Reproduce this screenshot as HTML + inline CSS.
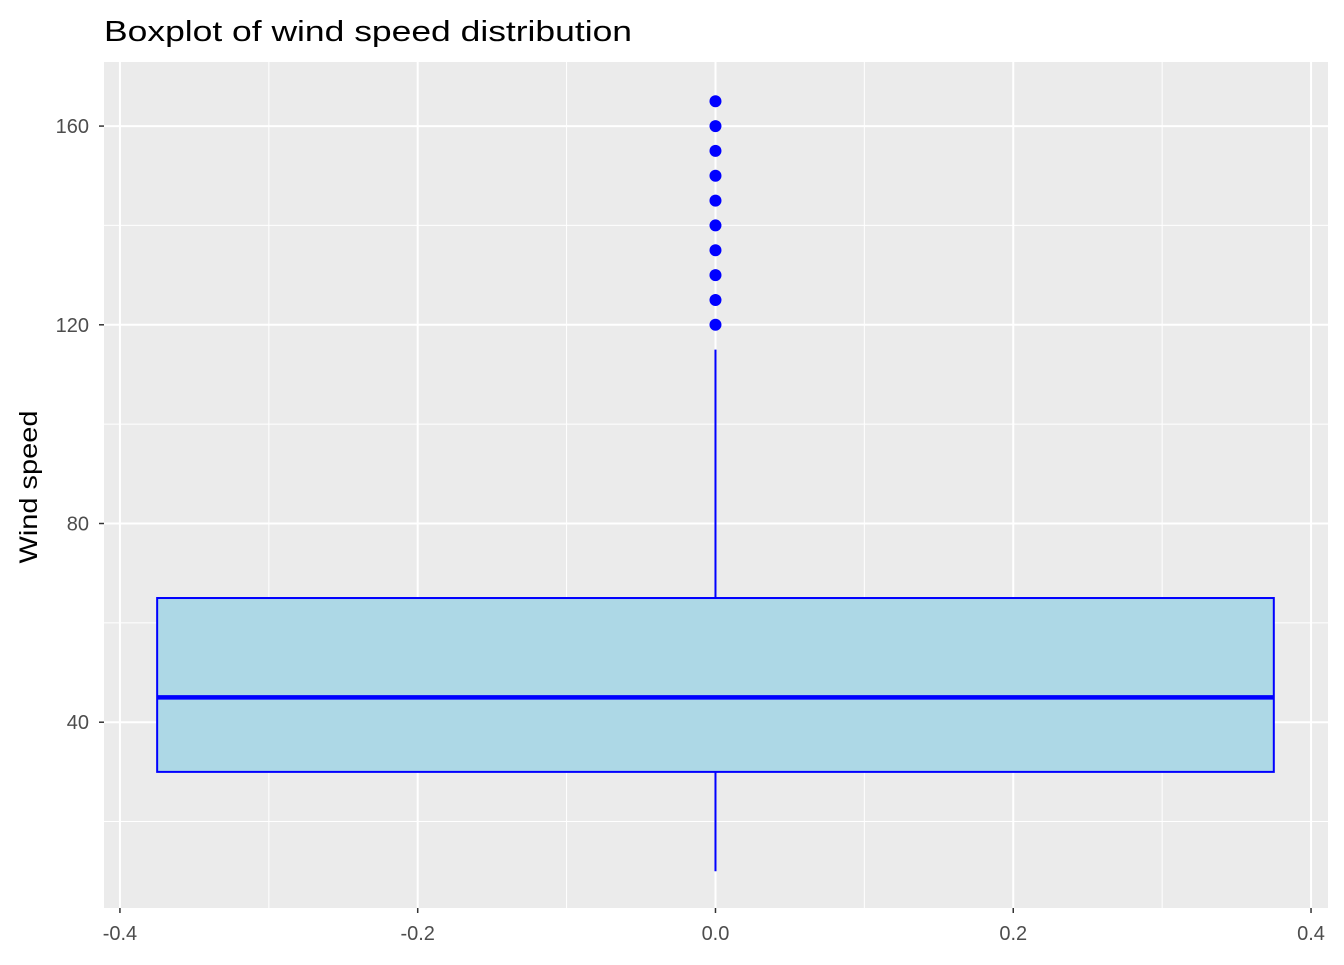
<!DOCTYPE html>
<html><head><meta charset="utf-8"><style>
body{margin:0;background:#fff;font-family:"Liberation Sans",sans-serif}
</style></head><body>
<svg id="chart" width="1344" height="960" xmlns="http://www.w3.org/2000/svg" font-family="Liberation Sans, sans-serif">
<text x="104" y="41" font-size="29" textLength="528" lengthAdjust="spacingAndGlyphs" fill="#000">Boxplot of wind speed distribution</text>
<text transform="translate(37,487) rotate(-90)" text-anchor="middle" font-size="25" textLength="153" lengthAdjust="spacingAndGlyphs" fill="#000">Wind speed</text>
<g id="g"></g>
</svg>
<script>
const xTicks=[-0.4,-0.2,0.0,0.2,0.4];
const xTickLabels=["-0.4","-0.2","0.0","0.2","0.4"];
const yTicks=[40,80,120,160];
const yTickLabels=["40","80","120","160"];
const stats=[10,30,45,65,115]; // min whisker, q1, median, q3, max whisker
const outliers=[120,125,130,135,140,145,150,155,160,165];
const boxHalfWidth=[0.375];
const L=104,R=1328,T=62,B=908;
const x0=-0.4107,x1=0.4114,y0=2.6,y1=172.9;
const X=v=>L+(v-x0)/(x1-x0)*(R-L);
const Y=v=>B-(v-y0)/(y1-y0)*(B-T);
const NS="http://www.w3.org/2000/svg";
const g=document.getElementById('g');
function mk(t,a,p){const e=document.createElementNS(NS,t);for(const k in a)e.setAttribute(k,a[k]);(p||g).appendChild(e);return e;}
const bg=mk('rect',{x:L,y:T,width:R-L,height:B-T,fill:'#ebebeb'});


for(let i=0;i<xTicks.length-1;i++){const m=(xTicks[i]+xTicks[i+1])/2;const l=mk('line',{x1:X(m),x2:X(m),y1:T,y2:B,stroke:'#fff','stroke-width':1});

}
const ym=[20,60,100,140];
ym.forEach(v=>{const l=mk('line',{x1:L,x2:R,y1:Y(v),y2:Y(v),stroke:'#fff','stroke-width':1});

});
xTicks.forEach((v,i)=>{const l=mk('line',{x1:X(v),x2:X(v),y1:T,y2:B,stroke:'#fff','stroke-width':2});


const tk=mk('line',{x1:X(v),x2:X(v),y1:B,y2:B+5,stroke:'#333','stroke-width':1.5});


const t=mk('text',{x:X(v),y:B+32,'text-anchor':'middle','font-size':20,fill:'#4d4d4d'});t.textContent=xTickLabels[i];

});
yTicks.forEach((v,i)=>{const l=mk('line',{x1:L,x2:R,y1:Y(v),y2:Y(v),stroke:'#fff','stroke-width':2});


const tk=mk('line',{x1:L-5,x2:L,y1:Y(v),y2:Y(v),stroke:'#333','stroke-width':1.5});


const t=mk('text',{x:L-15,y:Y(v)+7,'text-anchor':'end','font-size':20,fill:'#4d4d4d'});t.textContent=yTickLabels[i];

});
const c=X(0),hw=boxHalfWidth[0];
const w1=mk('line',{x1:c,x2:c,y1:Y(stats[0]),y2:Y(stats[1]),stroke:'#00f','stroke-width':2});


const w2=mk('line',{x1:c,x2:c,y1:Y(stats[3]),y2:Y(stats[4]),stroke:'#00f','stroke-width':2});


const box=mk('rect',{x:X(-hw),y:Y(stats[3]),width:X(hw)-X(-hw),height:Y(stats[1])-Y(stats[3]),fill:'#add8e6',stroke:'#00f','stroke-width':2});


const med=mk('line',{x1:X(-hw),x2:X(hw),y1:Y(stats[2]),y2:Y(stats[2]),stroke:'#00f','stroke-width':4.5});


outliers.forEach(v=>{const p=mk('circle',{cx:c,cy:Y(v),r:6,fill:'#00f'});

});
</script>
</body></html>
